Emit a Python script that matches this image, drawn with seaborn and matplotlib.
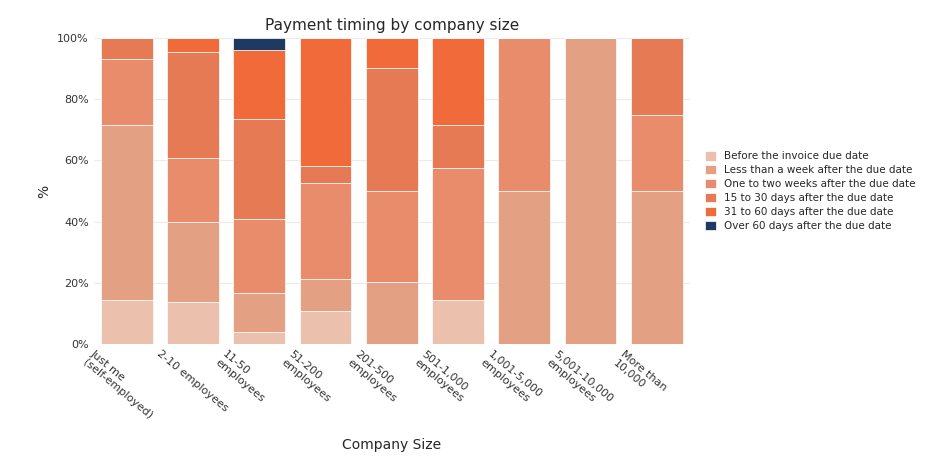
import numpy as np
import pandas as pd
import seaborn as sns
import matplotlib.pyplot as plt
import matplotlib.transforms as mtransforms

sizes = ['Just me\n(self-employed)', '2-10 employees', '11-50\nemployees', '51-200\nemployees',
         '201-500\nemployees', '501-1,000\nemployees', '1,001-5,000\nemployees',
         '5,001-10,000\nemployees', 'More than\n10,000']
categories = ['Before the invoice due date', 'Less than a week after the due date',
              'One to two weeks after the due date', '15 to 30 days after the due date',
              '31 to 60 days after the due date', 'Over 60 days after the due date']
before = [14.4, 13.7, 3.9, 10.8, 0, 14.3, 0, 0, 0]
less_week = [57.2, 26.2, 12.8, 10.4, 20.3, 0, 50, 100, 50]
one_two = [21.5, 20.9, 24.1, 31.4, 29.7, 43.2, 50, 0, 25]
d15_30 = [6.9, 34.6, 32.7, 5.6, 40.2, 14.1, 0, 0, 25]
d31_60 = [0, 4.6, 22.6, 41.8, 9.8, 28.4, 0, 0, 0]
over60 = [0, 0, 3.9, 0, 0, 0, 0, 0, 0]
colors = ['#EBC0AC', '#E3A083', '#E88C6C', '#E57A55', '#F06A3A', '#1F3A60']

sns.set_style('white')
fig, ax = plt.subplots(figsize=(9.36, 4.58), dpi=100)
fig.subplots_adjust(left=0.1, right=0.737, top=0.917, bottom=0.249)

series = [before, less_week, one_two, d15_30, d31_60, over60]
bottom = np.zeros(len(sizes))
for name, vals, c in zip(categories, series, colors):
    vals = np.array(vals)
    sns.barplot(x=sizes, y=vals, bottom=bottom, color=c, ax=ax, width=0.78,
                label=name, saturation=1, edgecolor='white', linewidth=0.5)
    bottom += vals

ax.set_ylim(0, 100)
ax.set_yticks([0, 20, 40, 60, 80, 100])
ax.set_yticklabels([f'{v}%' for v in range(0, 101, 20)], fontsize=8, color='#333333')
ax.yaxis.grid(True, color='#EBEBEB', linewidth=0.8)
ax.set_axisbelow(True)
for s in ax.spines.values():
    s.set_visible(False)
ax.tick_params(length=0)
offset = mtransforms.ScaledTranslation(-0.32, 0, fig.dpi_scale_trans)
for lbl in ax.get_xticklabels():
    lbl.set_rotation(-40)
    lbl.set_ha('left')
    lbl.set_va('top')
    lbl.set_rotation_mode('anchor')
    lbl.set_fontsize(8)
    lbl.set_color('#333333')
    lbl.set_transform(lbl.get_transform() + offset)
ax.set_xlabel('Company Size', fontsize=10, labelpad=12)
ax.set_ylabel('%', fontsize=10)
ax.set_title('Payment timing by company size', fontsize=11)
ax.legend(loc='center left', bbox_to_anchor=(1.01, 0.5), frameon=False, fontsize=7.5,
          handlelength=1, handleheight=1, labelspacing=0.35)

plt.savefig('out.png', dpi=100)
